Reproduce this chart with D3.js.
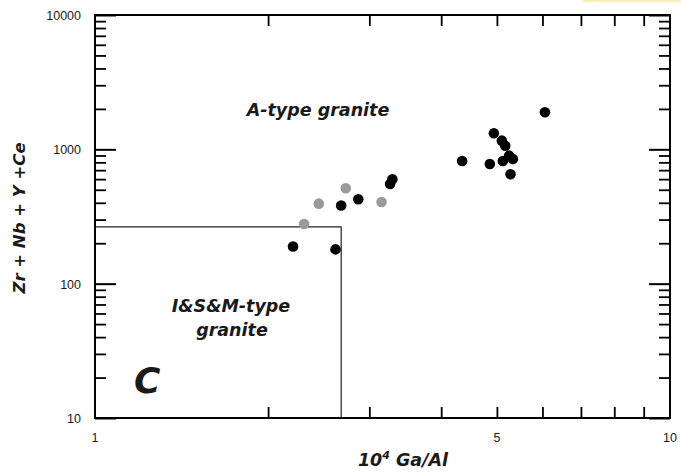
<!DOCTYPE html>
<html>
<head>
<meta charset="utf-8">
<script src="https://d3js.org/d3.v7.min.js"></script>
<style>
  html, body { margin: 0; padding: 0; background: #fff; }
  svg { display: block; }
  text { font-family: "Liberation Sans", Arial, Helvetica, sans-serif; fill: #1a1a1a; }
  .tick-label { font-size: 12.5px; }
  .title { font-family: "DejaVu Sans", Verdana, sans-serif; font-size: 17.5px; font-weight: bold; font-style: italic; }
</style>
</head>
<body>
<svg id="chart" width="681" height="473"></svg>
<script>
// Samples: 10^4 Ga/Al vs Zr+Nb+Y+Ce (ppm)
const blackGaAl = [2.21, 2.62, 2.68, 2.87, 3.26, 3.29, 4.35, 4.86, 4.94, 5.10, 5.17, 5.12, 5.25, 5.33, 5.28, 6.06];
const blackZrNbYCe = [189, 180, 382, 425, 552, 598, 819, 778, 1317, 1160, 1064, 819, 897, 848, 652, 1887];
const grayGaAl = [2.31, 2.45, 2.73, 3.15];
const grayZrNbYCe = [278, 394, 513, 405];

// I&S&M-type field boundary
const fieldGaAl = [1, 2.68];
const fieldZrNbYCe = [10, 265];

const xLabelTicks = [1, 5, 10];
const xMinorTicks = [2, 3, 4, 5, 6, 7, 8, 9];
const yMajorTicks = [10, 100, 1000, 10000];

const svg = d3.select('#chart');
const plotLeft = 95, plotRight = 670, plotTop = 15, plotBottom = 418;

const x = d3.scaleLog().domain([1, 10]).range([plotLeft, plotRight]);
const y = d3.scaleLog().domain([10, 10000]).range([plotBottom, plotTop]);

// minor ticks 2..9 for each decade on y
const yMinorTicks = [];
[10, 100, 1000].forEach(d => {
  for (let k = 2; k <= 9; k++) yMinorTicks.push(d * k);
});

// little highlight strip at the top right
svg.append('line')
  .attr('x1', 583).attr('x2', 681)
  .attr('y1', 1).attr('y2', 1)
  .attr('stroke', '#f6f0a8')
  .attr('stroke-width', 2);

function styleAxis(g, width) {
  g.select('.domain').remove();
  g.selectAll('.tick line').attr('stroke', '#000').attr('stroke-width', width);
}

// inward ticks on all four sides
svg.append('g')
  .attr('transform', `translate(0,${plotBottom})`)
  .call(d3.axisBottom(x).tickValues(xMinorTicks).tickSizeInner(-11).tickFormat(''))
  .call(g => styleAxis(g, 1.8));

svg.append('g')
  .attr('transform', `translate(0,${plotTop})`)
  .call(d3.axisTop(x).tickValues(xMinorTicks).tickSizeInner(-11).tickFormat(''))
  .call(g => styleAxis(g, 1.8));

svg.append('g')
  .attr('transform', `translate(${plotLeft},0)`)
  .call(d3.axisLeft(y).tickValues(yMinorTicks).tickSizeInner(-11).tickFormat(''))
  .call(g => styleAxis(g, 1.8));

svg.append('g')
  .attr('transform', `translate(${plotLeft},0)`)
  .call(d3.axisLeft(y).tickValues(yMajorTicks).tickSizeInner(-21).tickFormat(''))
  .call(g => styleAxis(g, 2));

svg.append('g')
  .attr('transform', `translate(${plotRight},0)`)
  .call(d3.axisRight(y).tickValues(yMinorTicks).tickSizeInner(-11).tickFormat(''))
  .call(g => styleAxis(g, 1.8));

svg.append('g')
  .attr('transform', `translate(${plotRight},0)`)
  .call(d3.axisRight(y).tickValues(yMajorTicks).tickSizeInner(-21).tickFormat(''))
  .call(g => styleAxis(g, 2));

// frame
svg.append('rect')
  .attr('x', plotLeft).attr('y', plotTop)
  .attr('width', plotRight - plotLeft).attr('height', plotBottom - plotTop)
  .attr('fill', 'none')
  .attr('stroke', '#000')
  .attr('stroke-width', 2);

// tick labels
svg.append('g').selectAll('text')
  .data(xLabelTicks)
  .join('text')
  .attr('class', 'tick-label')
  .attr('x', d => x(d))
  .attr('y', plotBottom + 24)
  .attr('text-anchor', 'middle')
  .text(d => d);

svg.append('g').selectAll('text')
  .data(yMajorTicks)
  .join('text')
  .attr('class', 'tick-label')
  .attr('x', plotLeft - 14)
  .attr('y', d => y(d) + 5)
  .attr('text-anchor', 'end')
  .text(d => d);

// I&S&M field box
svg.append('path')
  .attr('d', d3.line()([
    [x(fieldGaAl[0]), y(fieldZrNbYCe[1])],
    [x(fieldGaAl[1]), y(fieldZrNbYCe[1])],
    [x(fieldGaAl[1]), y(fieldZrNbYCe[0])]
  ]))
  .attr('fill', 'none')
  .attr('stroke', '#222')
  .attr('stroke-width', 1.2);

// field labels
svg.append('text')
  .attr('class', 'title')
  .attr('x', 318).attr('y', 116)
  .attr('text-anchor', 'middle')
  .text('A-type granite');

const ism = svg.append('text')
  .attr('class', 'title')
  .attr('text-anchor', 'middle');
ism.append('tspan').attr('x', 231).attr('y', 312).text('I&S&M-type');
ism.append('tspan').attr('x', 232).attr('y', 336).text('granite');

svg.append('text')
  .attr('class', 'title')
  .attr('x', 134).attr('y', 393)
  .style('font-size', '36px')
  .text('C');

// data points
svg.append('g').selectAll('circle')
  .data(grayGaAl.map((d, i) => [d, grayZrNbYCe[i]]))
  .join('circle')
  .attr('cx', d => x(d[0]))
  .attr('cy', d => y(d[1]))
  .attr('r', 5.3)
  .attr('fill', '#9a9a9a');

svg.append('g').selectAll('circle')
  .data(blackGaAl.map((d, i) => [d, blackZrNbYCe[i]]))
  .join('circle')
  .attr('cx', d => x(d[0]))
  .attr('cy', d => y(d[1]))
  .attr('r', 5.3)
  .attr('fill', '#000');

// axis titles
const xt = svg.append('text')
  .attr('class', 'title')
  .attr('x', 403).attr('y', 466)
  .attr('text-anchor', 'middle');
xt.append('tspan').text('10');
xt.append('tspan').attr('dy', -7).style('font-size', '11px').text('4');
xt.append('tspan').attr('dy', 7).text(' Ga/Al');

svg.append('text')
  .attr('class', 'title')
  .attr('transform', 'translate(25,218) rotate(-90)')
  .attr('text-anchor', 'middle')
  .style('font-size', '16.5px')
  .text('Zr + Nb + Y +Ce');
</script>
</body>
</html>
